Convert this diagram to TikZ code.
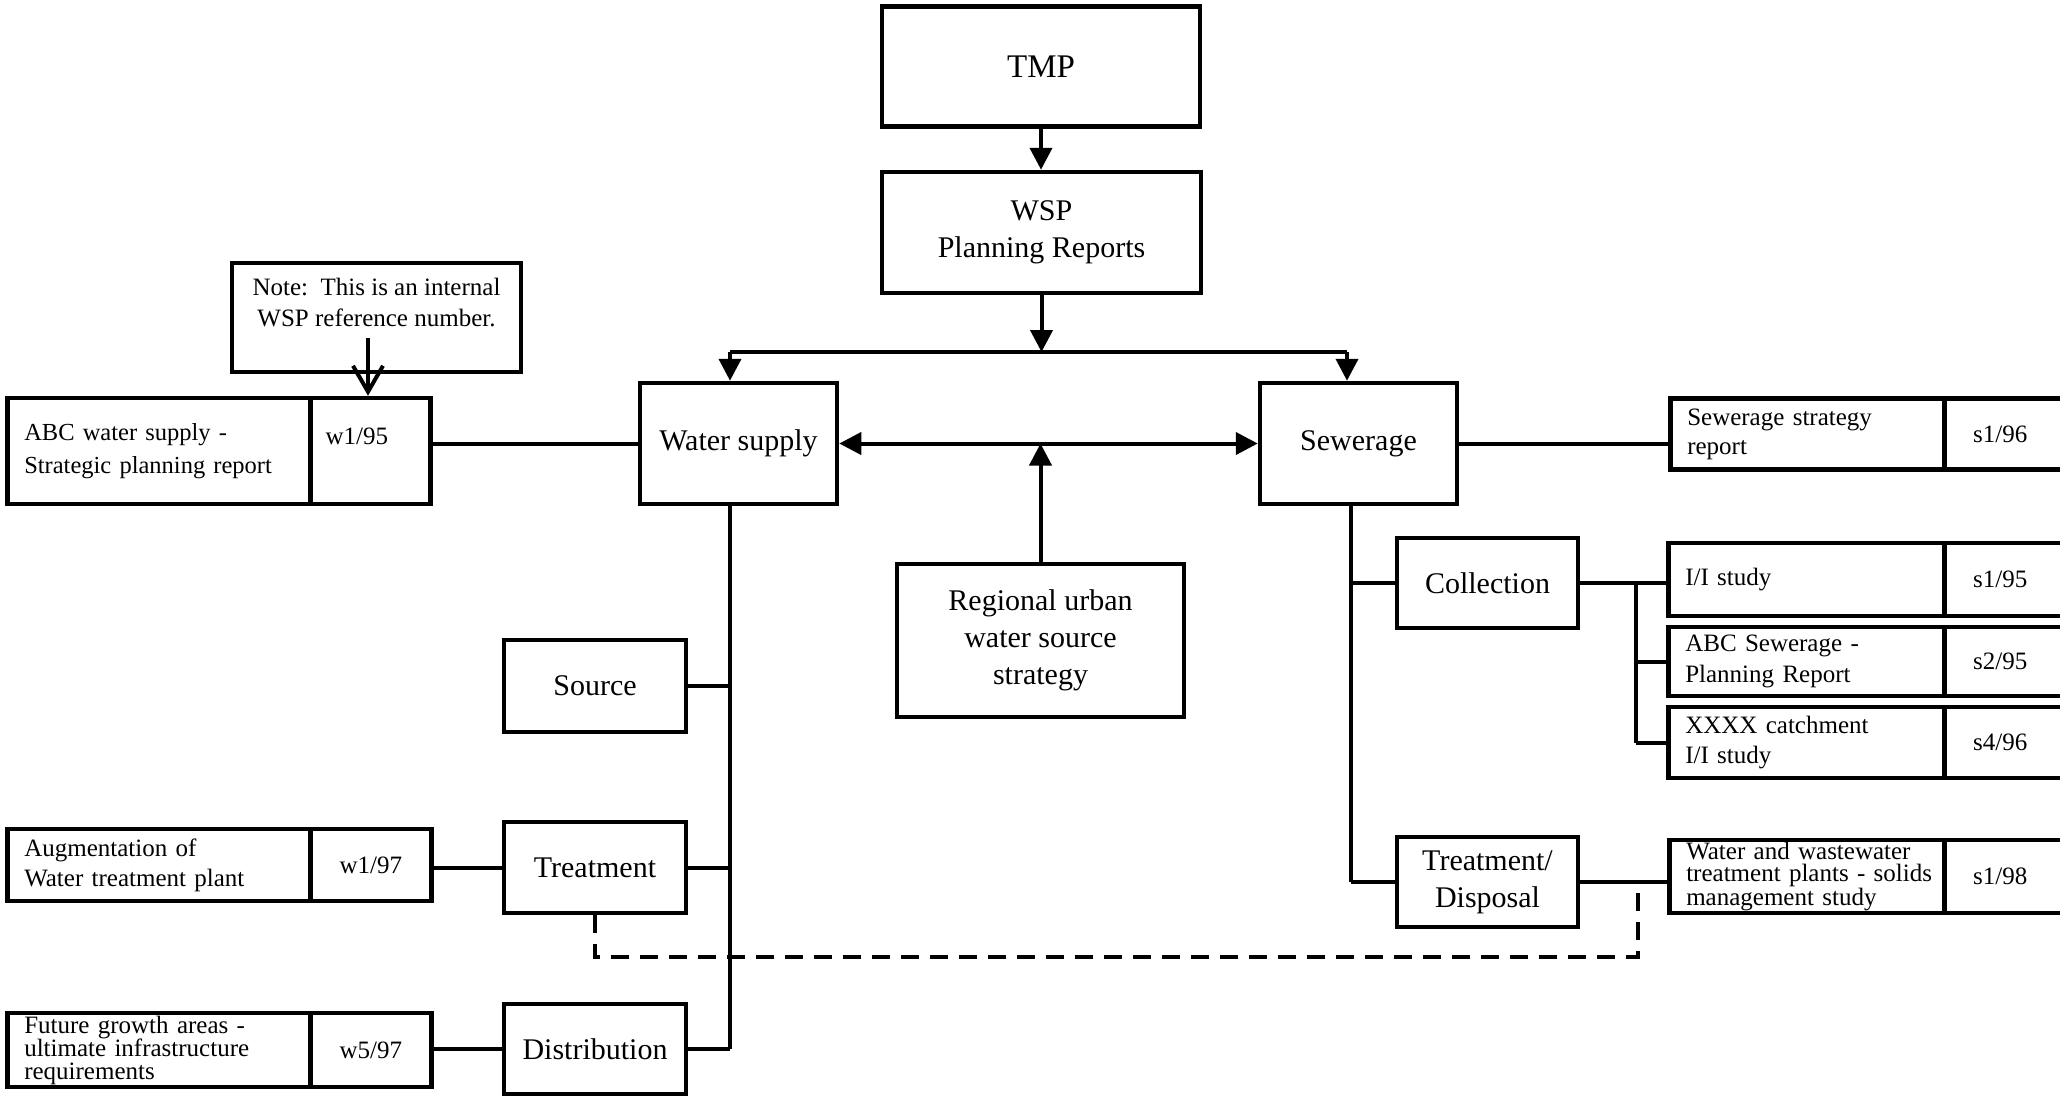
\documentclass[tikz,border=0pt]{standalone}
\usepackage{fontspec}
\setmainfont{Liberation Serif}
\usetikzlibrary{arrows.meta}
\begin{document}
\begin{tikzpicture}[x=1pt,y=-1pt,
  bigfont/.style={font=\fontsize{30}{37}\selectfont},
  smallfont/.style={font=\fontsize{25}{25}\selectfont},
  box/.style={draw, line width=4.5pt, inner sep=0pt, align=center, bigfont},
  cell/.style={draw, line width=4.5pt, inner xsep=17pt, inner ysep=0pt, smallfont},
  textcell/.style={cell, align=left},
  numcell/.style={cell, minimum width=122pt},
  link/.style={line width=4pt},
  arr/.style={link, -{Triangle[length=22pt,width=22pt]}},
  dbl/.style={link, {Triangle[length=22pt,width=22pt]}-{Triangle[length=22pt,width=22pt]}},
  dashline/.style={link, dash pattern=on 18pt off 11pt}
]
\useasboundingbox (0,0) rectangle (2060,1096);
% right-hand number cells run past the page edge; pull their labels back to the visible part
\newcommand\edgeshift{\hspace*{-10pt}}

% ---- top of the hierarchy ----
\node[box, minimum width=318pt, minimum height=120pt, font=\fontsize{33}{37}\selectfont] (tmp) at (1041,66.5) {TMP};
\node[box, minimum width=319pt, minimum height=121pt] (wsp) at (1041.5,232.5) {WSP\\Planning Reports};

\node[box, minimum width=197pt, minimum height=121pt] (ws) at (738.5,443.5) {Water supply};
\node[box, minimum width=197pt, minimum height=121pt] (sew) at (1358.5,443.5) {Sewerage};
\node[box, minimum width=287pt, minimum height=153pt] (reg) at (1040.5,640.5) {Regional urban\\water source\\strategy};

% ---- water supply branch ----
\node[box, minimum width=182pt, minimum height=92pt] (src) at (595,686) {Source};
\node[box, minimum width=182pt, minimum height=91pt] (treat) at (595,867.5) {Treatment};
\node[box, minimum width=182pt, minimum height=90pt] (dist) at (595,1049) {Distribution};

% ---- sewerage branch ----
\node[box, minimum width=181pt, minimum height=90pt] (coll) at (1487.5,583) {Collection};
\node[box, minimum width=181pt, minimum height=90pt] (td) at (1487.5,882) {Treatment/\\Disposal};

% ---- note ----
\node[draw, line width=4.5pt, minimum width=289pt, minimum height=109pt, inner sep=0pt] (note) at (376.5,317.5) {};
\node[font=\fontsize{25}{31}\selectfont, align=center, anchor=center] (notetext) at (376.5,303) {Note:\ \ This is an internal\\WSP reference number.};

% ---- report references, left ----
\node[textcell, text width=269pt, minimum height=106pt, anchor=west, font=\fontsize{24.5}{33}\selectfont] (abcT) at (5,451) {ABC water supply -\\Strategic planning report};
\node[cell, minimum width=120pt, minimum height=106pt, anchor=west] (abcN) at (308,451) {};
\node[smallfont, anchor=base west] (abcNum) at (322,444) {w1/95};

\node[textcell, text width=269pt, minimum height=72pt, anchor=west, font=\fontsize{25}{30}\selectfont] (augT) at (5,865) {Augmentation of\\Water treatment plant};
\node[numcell, minimum width=121pt, minimum height=72pt, anchor=west] (augN) at (308,865) {w1/97};

\node[textcell, text width=269pt, minimum height=74pt, anchor=west, font=\fontsize{25}{23}\selectfont] (futT) at (5,1050) {Future growth areas -\\ultimate infrastructure\\requirements};
\node[numcell, minimum width=121pt, minimum height=74pt, anchor=west] (futN) at (308,1050) {w5/97};

% ---- report references, right ----
\node[textcell, text width=240pt, minimum height=71pt, anchor=west, font=\fontsize{25}{29}\selectfont] (ssT) at (1668,434) {Sewerage strategy\\report};
\node[numcell, minimum height=71pt, anchor=west] (ssN) at (1942,434) {\edgeshift s1/96};

\node[textcell, text width=242pt, minimum height=73pt, anchor=west] (iiT) at (1666,579.5) {I/I study};
\node[numcell, minimum height=73pt, anchor=west] (iiN) at (1942,579.5) {\edgeshift s1/95};

\node[textcell, text width=242pt, minimum height=69pt, anchor=west, font=\fontsize{25}{31}\selectfont] (abT) at (1666,661.5) {ABC Sewerage -\\Planning Report};
\node[numcell, minimum height=69pt, anchor=west] (abN) at (1942,661.5) {\edgeshift s2/95};

\node[textcell, text width=242pt, minimum height=71pt, anchor=west, font=\fontsize{25}{30}\selectfont] (xxT) at (1666,742.5) {XXXX catchment\\I/I study};
\node[numcell, minimum height=71pt, anchor=west] (xxN) at (1942,742.5) {\edgeshift s4/96};

\node[textcell, text width=241pt, minimum height=73pt, anchor=west, font=\fontsize{25}{22.3}\selectfont] (wwT) at (1667,876.5) {\mbox{Water and wastewater}\\\mbox{treatment plants - solids}\\\mbox{management study}};
\node[numcell, minimum height=73pt, anchor=west] (wwN) at (1942,876.5) {\edgeshift s1/98};

% ---- junction points ----
\coordinate (busL) at (730,352);
\coordinate (busR) at (1347,352);
\coordinate (sTr) at (1351,504);
\coordinate (cb) at (1636,583);
\coordinate (dashCorner) at (1638,957);
\coordinate (dashEnd) at (1638,891);
\coordinate (noteStart) at (368,338);

% ---- connectors ----
\draw[arr] (tmp.south) -- (tmp.south |- wsp.north);
\draw[arr] (wsp.south) -- (wsp.south |- busL);
\draw[link] (busL) -- (busR);
\draw[arr] (busL) -- (busL |- ws.north);
\draw[arr] (busR) -- (busR |- sew.north);
\draw[dbl] (ws.east) -- (sew.west);
\draw[arr] (reg.north) -- (reg.north |- ws.east);
\draw[link] (abcN.east |- ws.west) -- (ws.west);
\draw[link, -{Straight Barb[length=26pt,width=30pt]}] (noteStart) -- (noteStart |- abcN.north);

\draw[link] (busL |- ws.south) -- (busL |- dist.east);
\draw[link] (src.east) -- (src.east -| busL);
\draw[link] (treat.east) -- (treat.east -| busL);
\draw[link] (dist.east) -- (dist.east -| busL);
\draw[link] (augN.east |- treat.west) -- (treat.west);
\draw[link] (futN.east |- dist.west) -- (dist.west);

\draw[link] (sTr) -- (sTr |- td.west);
\draw[link] (coll.west -| sTr) -- (coll.west);
\draw[link] (td.west -| sTr) -- (td.west);
\draw[link] (sew.east) -- (sew.east -| ssT.west);
\draw[link] (coll.east) -- (coll.east -| iiT.west);
\draw[link] (cb) -- (cb |- xxT.west);
\draw[link] (cb |- abT.west) -- (abT.west);
\draw[link] (cb |- xxT.west) -- (xxT.west);
\draw[link] (td.east) -- (td.east -| wwT.west);

\draw[dashline] (treat.south) -- (treat.south |- dashCorner) -- (dashCorner) -- (dashEnd);
\end{tikzpicture}
\end{document}
